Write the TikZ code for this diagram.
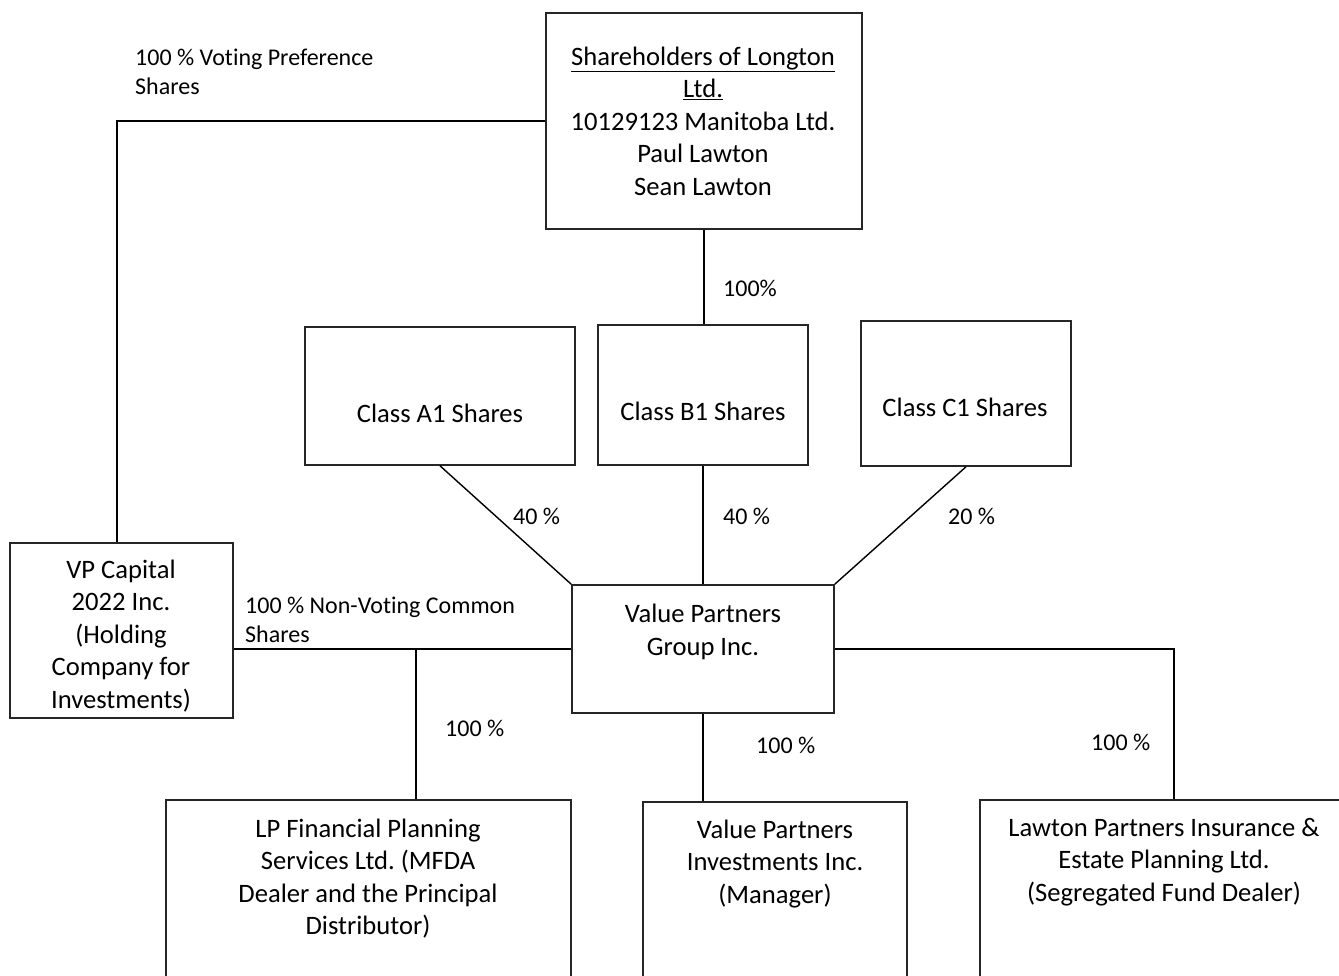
\documentclass[tikz,border=0pt]{standalone}
\usepackage{fontspec}
\setmainfont{Carlito}[Ligatures={NoCommon}]
\frenchspacing
\begin{document}
\begin{tikzpicture}[x=1pt,y=-1pt,
  box/.style={draw=black!85, line width=1.6pt, rectangle, inner sep=0pt},
  big/.style={align=center, font=\fontsize{26.6}{32.5}\selectfont, inner sep=0pt},
  small/.style={align=left, font=\fontsize{24}{29}\selectfont, inner sep=0pt, anchor=west},
  conn/.style={line width=1.4pt},
  heavy/.style={line width=2.6pt}]
\useasboundingbox (0,0) rectangle (1339,976);
\clip (0,0) rectangle (1339,976);
% boxes
\node[box, minimum width=316, minimum height=216] (sh) at (704,121) {};
\node[box, minimum width=270, minimum height=138] (a1) at (440,396) {};
\node[box, minimum width=210, minimum height=140] (b1) at (703,395) {};
\node[box, minimum width=210, minimum height=145] (c1) at (966,393.5) {};
\node[box, minimum width=262, minimum height=128] (vpg) at (703,649) {};
\node[box, minimum width=223, minimum height=175] (vp) at (121.5,630.5) {};
\node[box, minimum width=405, minimum height=200] (lp) at (368.5,900) {};
\node[box, minimum width=264, minimum height=198] (vpi) at (775,901) {};
\node[box, minimum width=365, minimum height=200] (law) at (1162.5,900) {};
% box texts
\node[big] (tsh) at (703,121) {\underline{Shareholders of Longton}\\\underline{Ltd.}\\10129123 Manitoba Ltd.\\Paul Lawton\\Sean Lawton};
\node[big] (ta1) at (440,413) {Class A1 Shares};
\node[big] (tb1) at (703,411) {Class B1 Shares};
\node[big] (tc1) at (965,407) {Class C1 Shares};
\node[big] (tvpg) at (703,632) {Value Partners\\Group Inc.};
\node[big] (tvp) at (121,636) {VP Capital\\2022 Inc.\\(Holding\\Company for\\Investments)};
\node[big] (tlp) at (368,878.5) {LP Financial Planning\\Services Ltd. (MFDA\\Dealer and the Principal\\Distributor)};
\node[big] (tvpi) at (775,864) {Value Partners\\Investments Inc.\\(Manager)};
\node[big] (tlaw) at (1164,862) {Lawton Partners Insurance \&\\Estate Planning Ltd.\\(Segregated Fund Dealer)};
% connectors
\draw[conn] (sh.south) -- (sh.south |- b1.north);
\draw[conn] (a1.south) -- (vpg.north west);
\draw[conn] (b1.south) -- (vpg.north);
\draw[conn] (c1.south) -- (vpg.north east);
\draw[conn] (sh.west) -| ([xshift=-4.5pt]vp.north);
\draw[conn] (vp.east |- vpg.west) -- (vpg.west);
\coordinate (j1) at (416,649);
\draw[heavy] (j1) -- (j1 |- lp.north);
\draw[conn] (vpg.south) -- (vpg.south |- vpi.north);
\draw[conn] (vpg.east) -| ([xshift=11.5pt]law.north);
% labels
\node[small] (l1) at (135,71.5) {100 \% Voting Preference\\Shares};
\node[small] (l2) at (723,288) {100\%};
\node[small] (l3) at (513,516) {40 \%};
\node[small] (l4) at (723,516) {40 \%};
\node[small] (l5) at (948,516) {20 \%};
\node[small] (l6) at (245,619.5) {100 \% Non-Voting Common\\Shares};
\node[small] (l7) at (445,728) {100 \%};
\node[small] (l8) at (756,745) {100 \%};
\node[small] (l9) at (1091,742) {100 \%};
\end{tikzpicture}
\end{document}
